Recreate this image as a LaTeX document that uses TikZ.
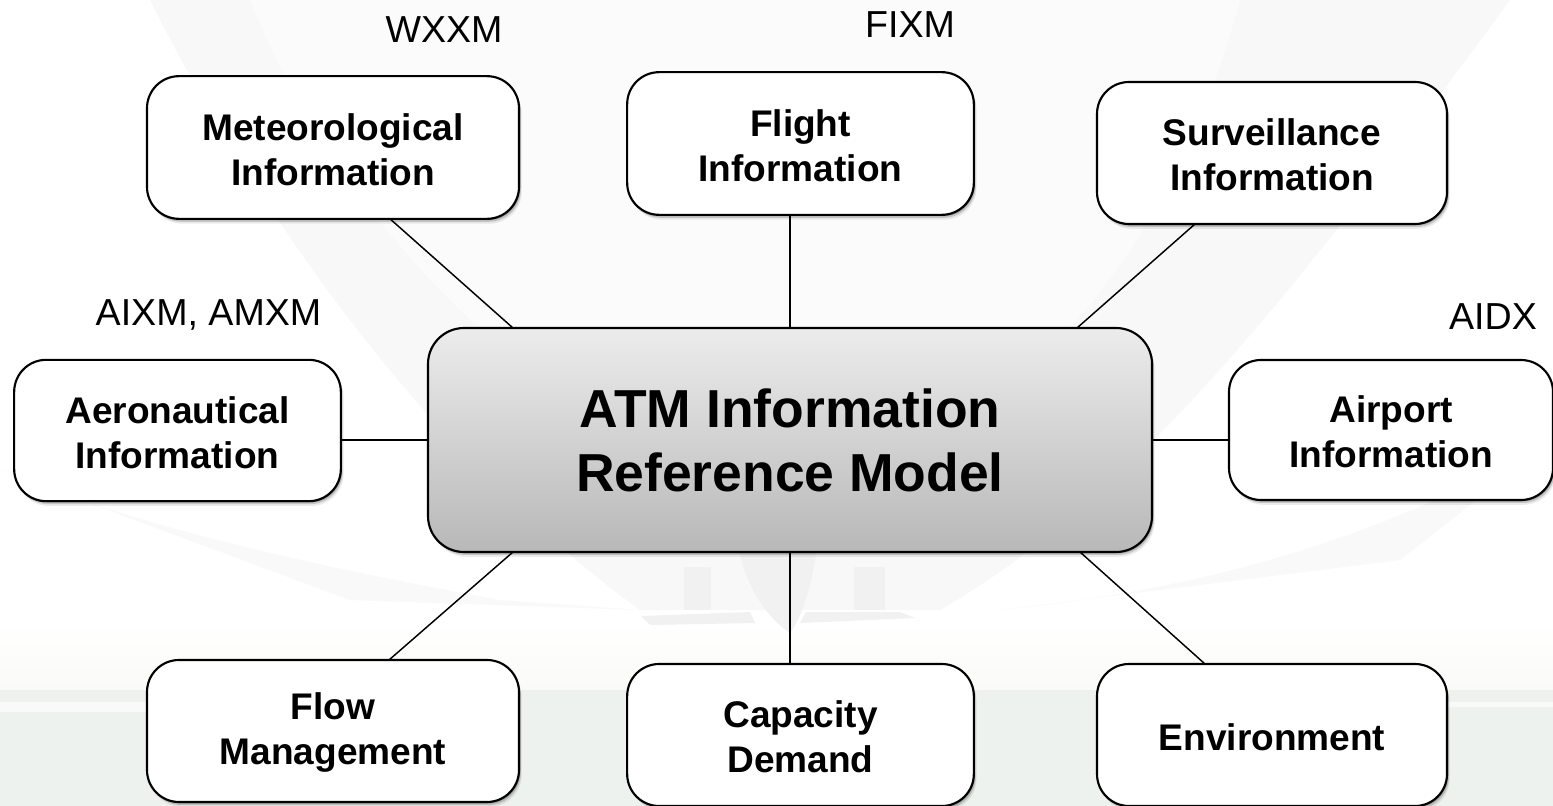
\documentclass[tikz,border=0pt]{standalone}
\usepackage{fontspec}
\setmainfont{Liberation Sans}
\usetikzlibrary{shadows,calc}
\definecolor{globe}{RGB}{248,248,249}
\definecolor{inner}{RGB}{251,251,252}
\definecolor{streak}{RGB}{249,249,249}
\definecolor{plane}{RGB}{241,241,241}
\definecolor{ground}{RGB}{238,242,239}
\definecolor{haze}{RGB}{250,251,248}
\definecolor{atmtop}{RGB}{236,236,236}
\definecolor{atmbot}{RGB}{184,184,184}
\newcommand{\boxlift}{\rule{0pt}{23pt}}
\tikzset{
  softshadow/.style={
    drop shadow={shadow xshift=0.8pt,shadow yshift=-1pt,opacity=.22,fill=black},
    drop shadow={shadow xshift=1.4pt,shadow yshift=-2.2pt,opacity=.16,fill=black},
    drop shadow={shadow xshift=2pt,shadow yshift=-3.6pt,opacity=.08,fill=black}},
  infobox/.style={draw=black,line width=1.6pt,fill=white,rounded corners=24pt,
    outer sep=0pt,inner sep=0pt,align=center,softshadow,
    font=\fontsize{27.8}{33.75}\selectfont\bfseries},
  hubbox/.style={draw=black,line width=1.6pt,top color=atmtop,bottom color=atmbot,
    rounded corners=27pt,outer sep=0pt,inner sep=0pt,align=center,softshadow,
    minimum width=543pt,minimum height=168pt,
    font=\fontsize{40.1}{48}\selectfont\bfseries},
  tag/.style={inner sep=0pt,font=\fontsize{28.2}{33}\selectfont},
  wire/.style={draw=black,line width=1.1pt}
}
\begin{document}
\begin{tikzpicture}[x=0.75pt,y=-0.75pt]
\useasboundingbox (0,0) rectangle (1553,806);
% backdrop
\fill[white] (0,0) rectangle (1553,806);
\begin{scope}
\clip (0,0) rectangle (1553,806);
\fill[globe] (150,0) .. controls (250,200) and (420,450) .. (640,610) -- (940,610)
  .. controls (1130,500) and (1290,300) .. (1510,0) -- cycle;
\fill[inner] (250,0) .. controls (330,200) and (520,430) .. (790,500)
  .. controls (1030,440) and (1180,230) .. (1240,0) -- cycle;
\fill[streak] (0,470) .. controls (120,520) and (280,560) .. (500,600) -- (640,610) -- (350,600) -- cycle;
\fill[streak] (1000,610) .. controls (1200,590) and (1380,540) .. (1553,440) -- (1400,560) -- cycle;
\shade[top color=white,bottom color=haze] (0,620) rectangle (1553,690);
\fill[plane] (737,540) .. controls (745,590) and (770,620) .. (790,633)
  .. controls (800,620) and (812,590) .. (818,540) -- cycle;
\fill[plane] (684,567) rectangle (711,610);
\fill[plane] (854,567) rectangle (885,610);
\fill[plane] (641,616) -- (750,612) -- (755,623) -- (650,625) -- cycle;
\fill[plane] (806,612) -- (900,612) -- (915,618) -- (800,623) -- cycle;
\fill[ground] (0,690) rectangle (1553,806);
\fill[white!60!ground] (0,702) rectangle (147,712);
\fill[white!60!ground] (1447,702) rectangle (1553,707);
\end{scope}
% boxes
\node[hubbox] (atm) at (790,440) {ATM Information\\Reference Model};
\node[infobox,minimum width=279pt,minimum height=107pt] (met) at (333,147.5) {\boxlift Meteorological\\Information};
\node[infobox,minimum width=260pt,minimum height=107pt] (flight) at (800.5,143.5) {\boxlift Flight\\Information};
\node[infobox,minimum width=262.5pt,minimum height=106.5pt] (surv) at (1272,153) {\boxlift Surveillance\\Information};
\node[infobox,minimum width=245pt,minimum height=106pt] (aero) at (177.5,430.5) {\boxlift Aeronautical\\Information};
\node[infobox,minimum width=243pt,minimum height=105pt] (airport) at (1391,430) {\boxlift Airport\\Information};
\node[infobox,minimum width=279pt,minimum height=106.5pt] (flow) at (333,731) {\boxlift Flow\\Management};
\node[infobox,minimum width=260pt,minimum height=106.5pt] (cap) at (800.5,735) {\boxlift Capacity\\Demand};
\node[infobox,minimum width=262.5pt,minimum height=106.5pt] (env) at (1272,735) {\boxlift Environment};
% connectors
\draw[wire] ($(atm.north)+(-277,0)$) -- ($(met.south)+(57,0)$);
\draw[wire] (atm.north) -- (atm.north |- flight.south);
\draw[wire] ($(atm.north)+(287,0)$) -- ($(surv.south)+(-77,0)$);
\draw[wire] (atm.west) -- (atm.west -| aero.east);
\draw[wire] (atm.east) -- (atm.east -| airport.west);
\draw[wire] ($(atm.south)+(-277,0)$) -- ($(flow.north)+(56,0)$);
\draw[wire] (atm.south) -- (atm.south |- cap.north);
\draw[wire] ($(atm.south)+(290,0)$) -- ($(env.north)+(-67,0)$);
% tags
\node[tag] (wxxm) at (444,30) {WXXM};
\node[tag] (fixm) at (910,25) {FIXM};
\node[tag] (aixm) at (208.5,315) {AIXM, AMXM};
\node[tag] (aidx) at (1493,317) {AIDX};
\end{tikzpicture}
\end{document}
